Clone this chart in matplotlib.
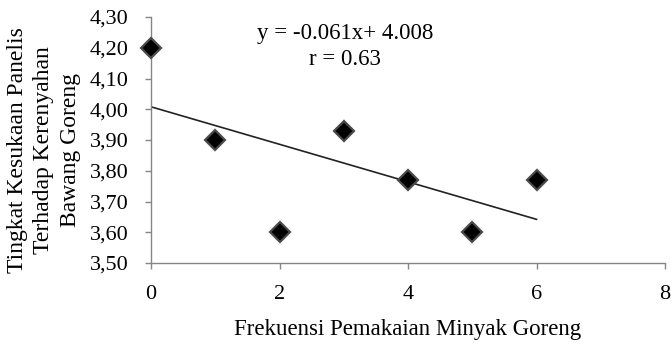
import numpy as np
import matplotlib
matplotlib.use("Agg")
import matplotlib.pyplot as plt

# data
frekuensi = [0, 1, 2, 3, 4, 5, 6]
kesukaan = [4.20, 3.90, 3.60, 3.93, 3.77, 3.60, 3.77]
slope = -0.061
intercept = 4.008
r_value = 0.63
y_ticks = [3.50, 3.60, 3.70, 3.80, 3.90, 4.00, 4.10, 4.20, 4.30]
x_ticks = [0, 2, 4, 6, 8]

plt.rcParams['font.family'] = ['Liberation Serif', 'DejaVu Serif']

fig = plt.figure(figsize=(6.71, 3.44), dpi=100)
ax = fig.add_axes([151 / 671, 1 - 263 / 344, (665 - 151) / 671, (263 - 17) / 344])

# garis tren
x_fit = np.array([min(frekuensi), max(frekuensi)])
ax.plot(x_fit, intercept + slope * x_fit, color='#222222', lw=1.2, zorder=2)

# titik data
ax.plot(frekuensi, kesukaan, linestyle='none', marker='D', markersize=10,
        markerfacecolor='black', markeredgecolor='#4a4a4a', markeredgewidth=1.6,
        zorder=3, clip_on=False)

ax.set_xlim(0, 8)
ax.set_ylim(3.50, 4.30)
ax.set_xticks(x_ticks)
ax.set_yticks(y_ticks)
ax.set_yticklabels([('%.2f' % v).replace('.', ',') for v in y_ticks])

for s in ['top', 'right']:
    ax.spines[s].set_visible(False)
for s in ['left', 'bottom']:
    ax.spines[s].set_color('#868686')
    ax.spines[s].set_linewidth(1)
ax.tick_params(colors='#868686', labelcolor='black', labelsize=16, length=4, width=1)
ax.tick_params(axis='x', pad=12)
ax.tick_params(axis='y', pad=12)

fig.text(408 / 671, 1 - 335 / 344, 'Frekuensi Pemakaian Minyak Goreng',
         ha='center', va='baseline', fontsize=16.5)
fig.text(44 / 671, 1 - 150 / 344, 'Tingkat Kesukaan Panelis\nTerhadap Kerenyahan\nBawang Goreng',
         rotation=90, ha='center', va='center', fontsize=17, linespacing=1.35)

ax.text(3.02, 4.205, 'y = -0.061x+ 4.008\nr = %.2f' % r_value, ha='center', va='center',
        fontsize=16.5, linespacing=1.3)

fig.savefig('out.png', dpi=100)
